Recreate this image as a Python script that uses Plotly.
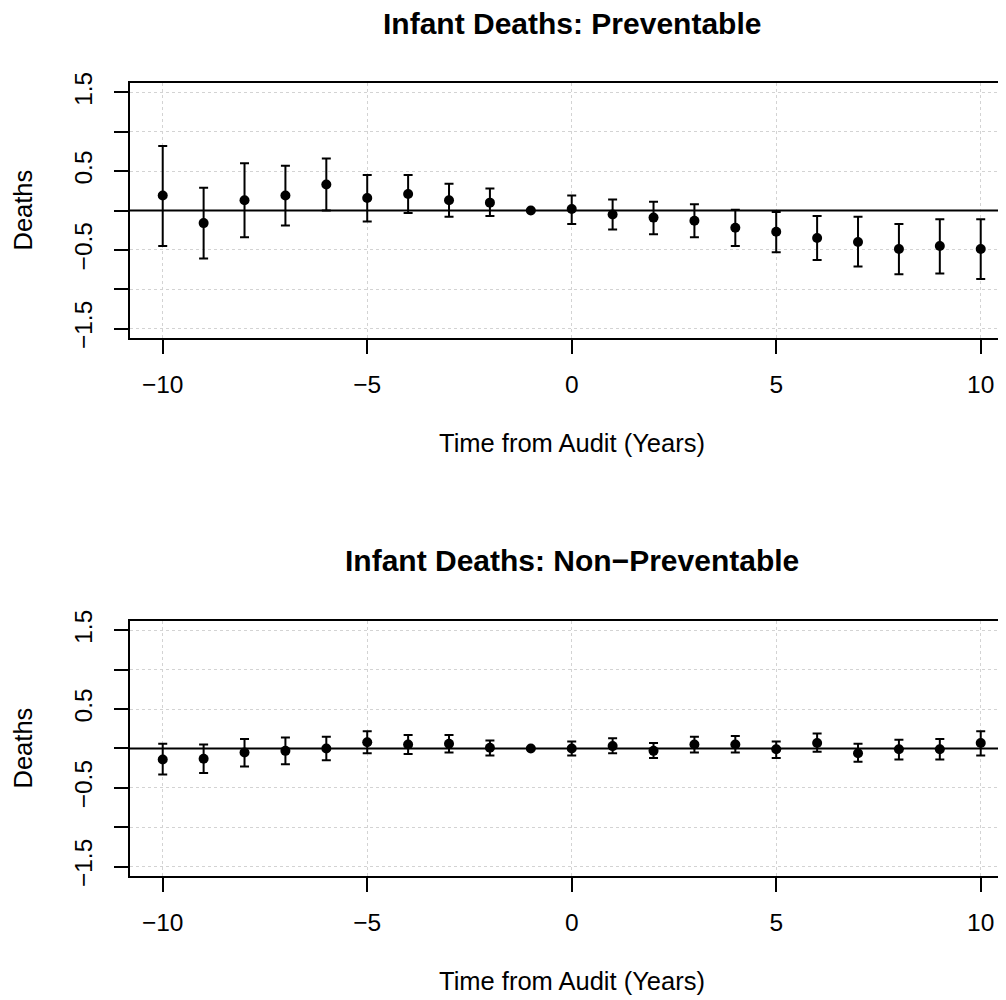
import plotly.graph_objects as go

# ---- data ----
years = [-10, -9, -8, -7, -6, -5, -4, -3, -2, -1, 0, 1, 2, 3, 4, 5, 6, 7, 8, 9, 10]

prev_est = [0.19, -0.16, 0.13, 0.19, 0.33, 0.16, 0.21, 0.13, 0.10, 0.0,
            0.02, -0.05, -0.09, -0.13, -0.22, -0.27, -0.35, -0.40, -0.49, -0.45, -0.49]
prev_hi = [0.82, 0.29, 0.60, 0.57, 0.66, 0.45, 0.45, 0.34, 0.28, 0.0,
           0.19, 0.14, 0.11, 0.08, 0.01, -0.02, -0.07, -0.08, -0.17, -0.11, -0.11]
prev_lo = [-0.45, -0.61, -0.34, -0.19, 0.00, -0.14, -0.03, -0.08, -0.07, 0.0,
           -0.17, -0.24, -0.30, -0.34, -0.45, -0.53, -0.63, -0.71, -0.81, -0.80, -0.87]

nonprev_est = [-0.14, -0.13, -0.05, -0.03, 0.00, 0.08, 0.05, 0.06, 0.01, 0.0,
               0.00, 0.03, -0.03, 0.05, 0.05, -0.01, 0.07, -0.06, -0.01, -0.01, 0.07]
nonprev_hi = [0.06, 0.05, 0.12, 0.14, 0.15, 0.22, 0.17, 0.17, 0.10, 0.0,
              0.09, 0.13, 0.07, 0.15, 0.16, 0.09, 0.19, 0.06, 0.11, 0.12, 0.22]
nonprev_lo = [-0.33, -0.31, -0.23, -0.20, -0.15, -0.06, -0.07, -0.05, -0.09, 0.0,
              -0.09, -0.06, -0.12, -0.05, -0.05, -0.12, -0.04, -0.17, -0.14, -0.14, -0.09]

titles = ["Infant Deaths: Preventable", "Infant Deaths: Non\u2212Preventable"]
x_title = "Time from Audit (Years)"
y_title = "Deaths"

x_tickvals = [-10, -5, 0, 5, 10]
x_ticktext = ["\u221210", "\u22125", "0", "5", "10"]
y_tickvals = [-1.5, -1.0, -0.5, 0.0, 0.5, 1.0, 1.5]
y_ticktext = ["\u22121.5", "", "\u22120.5", "", "0.5", "", "1.5"]

FONT = "Liberation Sans, Arial, Helvetica, sans-serif"

fig = go.Figure()

panels = [(prev_est, prev_lo, prev_hi), (nonprev_est, nonprev_lo, nonprev_hi)]
axis_ids = [("x", "y"), ("x2", "y2")]
for (est, lo, hi), (xa, ya) in zip(panels, axis_ids):
    fig.add_trace(go.Scatter(
        x=years, y=est, mode="markers", xaxis=xa, yaxis=ya,
        marker=dict(color="black", size=10),
        error_y=dict(type="data", symmetric=False,
                     array=[h - e for h, e in zip(hi, est)],
                     arrayminus=[e - l for e, l in zip(est, lo)],
                     color="black", thickness=2, width=4.5),
        showlegend=False, cliponaxis=False,
    ))

xaxis_common = dict(
    range=[-10.8, 10.618], tickvals=x_tickvals, ticktext=x_ticktext,
    ticks="outside", ticklen=14, tickwidth=1.8, tickcolor="black",
    showline=True, linecolor="black", linewidth=1.8, mirror=True,
    showgrid=True, gridcolor="#d3d3d3", griddash="dot", gridwidth=1,
    zeroline=False, tickfont=dict(family=FONT, size=24.5, color="black"),
    ticklabelstandoff=10,
)
yaxis_common = dict(
    range=[-1.62, 1.62], tickvals=y_tickvals, ticktext=y_ticktext,
    ticks="outside", ticklen=14, tickwidth=1.8, tickcolor="black",
    showline=True, linecolor="black", linewidth=1.8, mirror=False,
    showgrid=True, gridcolor="#d3d3d3", griddash="dot", gridwidth=1,
    zeroline=False, tickangle=-90,
    tickfont=dict(family=FONT, size=24.5, color="black"),
    ticklabelstandoff=12,
)

# the page body adds an 8px margin, so the figure is sized to fit inside it
fig.update_layout(
    width=998, height=992,
    margin=dict(l=122, r=0, t=75, b=124),
    paper_bgcolor="white", plot_bgcolor="white",
    xaxis=dict(domain=[0, 1], anchor="y", **xaxis_common),
    yaxis=dict(domain=[0.6784, 1.0], anchor="x", **yaxis_common),
    xaxis2=dict(domain=[0, 1], anchor="y2", **xaxis_common),
    yaxis2=dict(domain=[0.0, 0.3216], anchor="x2", **yaxis_common),
)

for i, (xa, ya) in enumerate(axis_ids):
    yd = ya + " domain"
    # zero reference line
    fig.add_shape(type="line", xref=xa + " domain", yref=ya, x0=0, x1=1, y0=0, y1=0,
                  line=dict(color="black", width=1.8), layer="above")
    # panel title
    fig.add_annotation(text="<b>" + titles[i] + "</b>", xref=xa, yref=yd,
                       x=0, y=1, yshift=60, yanchor="middle", xanchor="center",
                       borderpad=0, showarrow=False,
                       font=dict(family=FONT, size=30, color="black"))
    # x axis title
    fig.add_annotation(text=x_title, xref=xa, yref=yd, x=0, y=0, yshift=-105,
                       yanchor="middle", xanchor="center", showarrow=False,
                       font=dict(family=FONT, size=25.5, color="black"))
    # y axis title
    fig.add_annotation(text=y_title, xref=xa + " domain", yref=yd, x=0, y=0.5,
                       xshift=-107, xanchor="center", yanchor="middle", textangle=-90,
                       showarrow=False, font=dict(family=FONT, size=25.5, color="black"))

fig.write_html("out.html")
